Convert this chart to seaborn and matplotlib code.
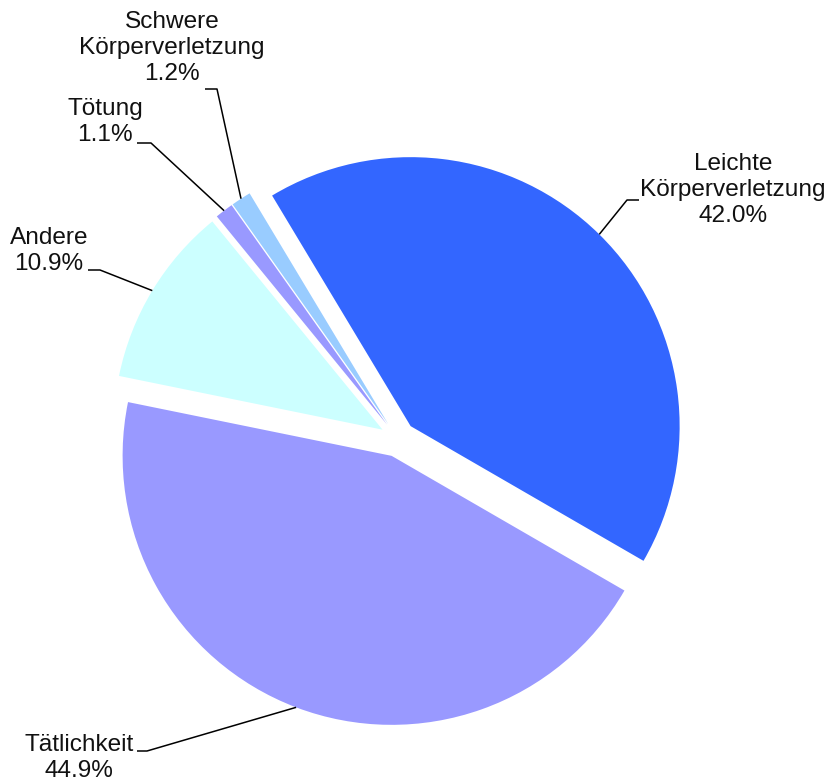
import numpy as np
import matplotlib.pyplot as plt
import seaborn as sns

# --- Data --- #
labels = ['Leichte\nKörperverletzung', 'Tätlichkeit', 'Andere', 'Tötung', 'Schwere\nKörperverletzung']
shares = [42.0, 44.9, 10.9, 1.1, 1.2]
colors = ['#3366FF', '#9999FF', '#CCFFFF', '#9999FF', '#99CCFF']

# --- Layout (pixels from the top-left of the 829x782 image) --- #
W, H = 829, 782
cx, cy = 398, 439      # pie centre
scale = 269            # pixels per unit radius

# elbow of the leader line, end of the short horizontal part, text anchor, alignment
leaders = [
    ((627, 200), (639, 200), (640, 190), 'left'),
    ((147, 751), (137, 751), (134, 758), 'right'),
    ((100, 270), (88, 270), (88, 251), 'right'),
    ((151, 143), (137, 143), (143, 122), 'right'),
    ((217, 89), (205, 89), (172, 48), 'center'),
]


def px2data(px, py):
    return (px - cx) / scale, (cy - py) / scale


sns.set_theme(style='white')
plt.rcParams['font.family'] = ['Liberation Sans', 'DejaVu Sans']

fig = plt.figure(figsize=(W / 100, H / 100), dpi=100)
ax = fig.add_axes([0, 0, 1, 1])

wedges, _ = ax.pie(
    shares,
    colors=colors,
    startangle=121,
    counterclock=False,
    explode=[0.067] * len(shares),
    radius=1,
    wedgeprops=dict(linewidth=0),
)

for w, lab, val, (elbow, end, txt, ha) in zip(wedges, labels, shares, leaders):
    mid = np.deg2rad((w.theta1 + w.theta2) / 2)
    x0 = w.center[0] + w.r * np.cos(mid)
    y0 = w.center[1] + w.r * np.sin(mid)
    ex, ey = px2data(*elbow)
    fx, fy = px2data(*end)
    ax.plot([x0, ex, fx], [y0, ey, fy], color='black', lw=1.1, solid_capstyle='butt')
    tx, ty = px2data(*txt)
    ax.text(tx, ty, f'{lab}\n{val:.1f}%', ha=ha, va='center', multialignment='center',
            fontsize=17.6, color='#111111', linespacing=1.25)

ax.set_xlim(-cx / scale, (W - cx) / scale)
ax.set_ylim(-(H - cy) / scale, cy / scale)
ax.set_aspect('equal')
ax.axis('off')

fig.savefig('out.png', dpi=100)
